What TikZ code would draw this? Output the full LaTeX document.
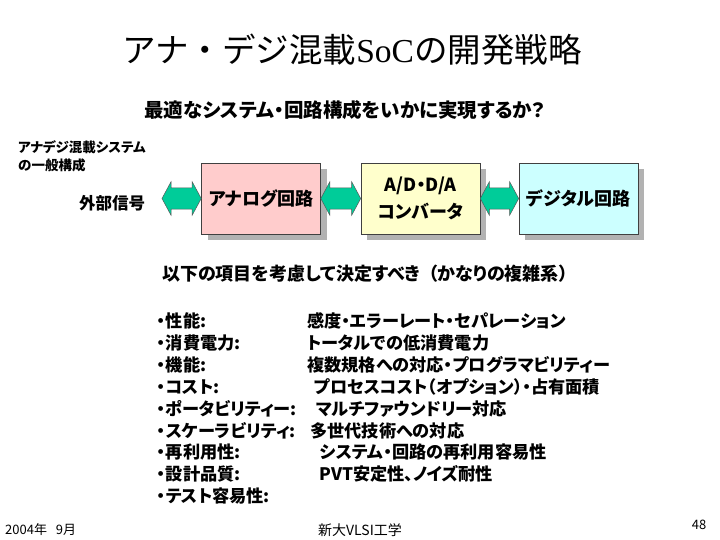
\documentclass[tikz,border=0pt]{standalone}
\usepackage{fontspec}
\usetikzlibrary{shadows,calc}
\setmainfont{Noto Sans CJK JP}
\newfontfamily\jp{Noto Sans CJK JP}[RawFeature=+palt]
\newfontfamily\latserif{Liberation Serif}
\definecolor{pinkbox}{RGB}{255,204,204}
\definecolor{yelbox}{RGB}{255,255,204}
\definecolor{cyanbox}{RGB}{204,255,255}
\definecolor{arrgreen}{RGB}{0,204,153}
\tikzset{
  box/.style={draw=black!75, line width=0.6pt, minimum width=119pt, minimum height=71pt,
    inner sep=0pt, align=center, font=\jp\bfseries\fontsize{18}{27}\selectfont,
    drop shadow={shadow xshift=6pt, shadow yshift=-6pt, opacity=1, fill=black!30}},
  fat/.style={fill=arrgreen, draw=black!65, line width=0.5pt, line join=miter},
  item/.style={anchor=west, inner sep=0pt, font=\jp\bfseries\fontsize{17.2}{18}\selectfont},
  plain/.style={inner sep=0pt},
}
\newcommand{\fatarrow}[2]{%
  \draw[fat] (#1) -- ++(9,-16.7) -- ++(0,6) -- ($(#2)+(-9,-10.7)$) -- ++(0,-6) -- (#2)
    -- ++(-9,16.7) -- ++(0,-6) -- ($(#1)+(9,10.7)$) -- ++(0,6) -- cycle;}
\begin{document}
\begin{tikzpicture}[x=1pt,y=-1pt]
\useasboundingbox (0,0) rectangle (720,540);
% title
\node[plain, font=\fontsize{33.5}{36}\selectfont] (title) at (352,50)
  {アナ・デジ混載{\latserif SoC}の開発戦略};
\node[plain, font=\jp\bfseries\fontsize{19.5}{22}\selectfont] (sub) at (345,110)
  {最適なシステム・回路構成をいかに実現するか？};
\node[plain, anchor=north west, align=left, font=\jp\bfseries\fontsize{13.5}{18}\selectfont] (gen) at (18,140)
  {アナデジ混載システム\\の一般構成};
\node[plain, font=\jp\bfseries\fontsize{16.5}{18}\selectfont] (ext) at (112,203) {外部信号};
% boxes
\node[box, fill=pinkbox] (ana) at (261,198.5) {アナログ回路};
\node[box, fill=yelbox] (adc) at (420.5,198.5) {A/D・D/A\\コンバータ};
\node[box, fill=cyanbox] (dig) at (578.5,198.5) {デジタル回路};
\coordinate (extend) at (162,198.5);
\fatarrow{extend}{ana.west}
\fatarrow{ana.east}{adc.west}
\fatarrow{adc.east}{dig.west}
% considerations
\node[plain, anchor=west, font=\jp\bfseries\fontsize{18}{20}\selectfont] (cons) at (162,274)
  {以下の項目を考慮して決定すべき\ \ （かなりの複雑系）};
\foreach \i/\a/\b/\bx in {
  0/・性能:/感度・エラーレート・セパレーション/307,
  1/・消費電力:/トータルでの低消費電力/307,
  2/・機能:/複数規格への対応・プログラマビリティー/307,
  3/・コスト:/プロセスコスト（オプション）・占有面積/314,
  4/・ポータビリティー:/マルチファウンドリー対応/316,
  5/・スケーラビリティ:/多世代技術への対応/310,
  6/・再利用性:/システム・回路の再利用容易性/320,
  7/・設計品質:/PVT安定性、ノイズ耐性/319}{
  \node[item] (l\i) at (157,{321+21.9*\i}) {\a};
  \node[item] (r\i) at (\bx,{321+21.9*\i}) {\b};
}
\node[item] (l8) at (157,{321+21.9*8}) {・テスト容易性:};
% footer
\node[plain, anchor=west, font=\fontsize{13}{14}\selectfont] (date) at (5,530) {2004年\ \ \ 9月};
\node[plain, font=\fontsize{14}{16}\selectfont] (inst) at (360,530) {新大VLSI工学};
\node[plain, font=\fontsize{13}{14}\selectfont] (page) at (699,525) {48};
\end{tikzpicture}
\end{document}
